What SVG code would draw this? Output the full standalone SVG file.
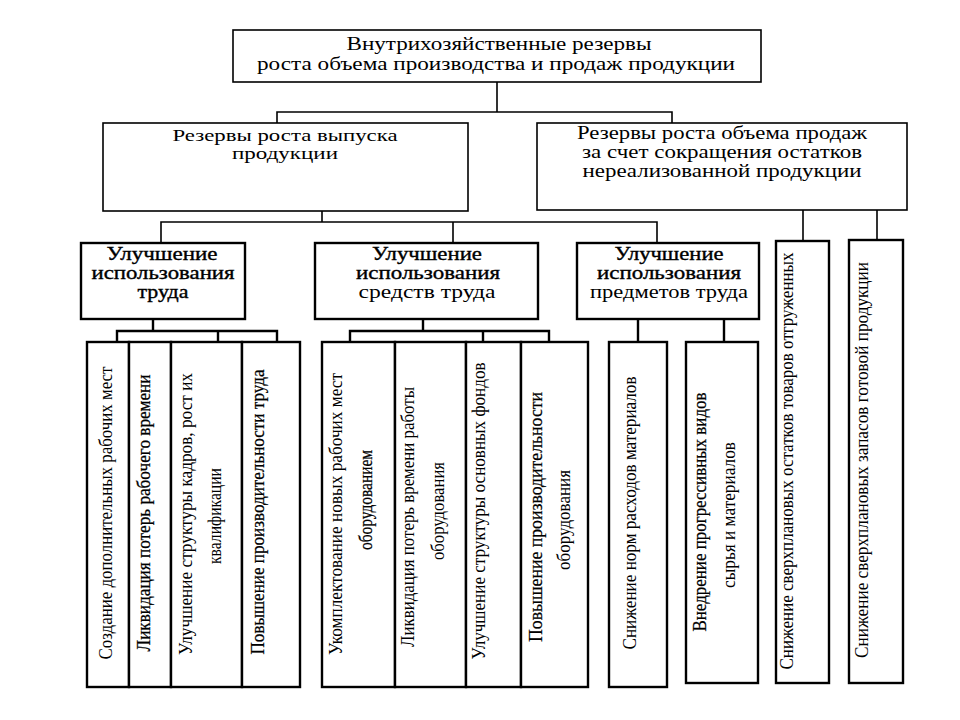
<svg xmlns="http://www.w3.org/2000/svg" width="960" height="720" viewBox="0 0 960 720">
<style>
.bx{fill:#fff;stroke:#000;stroke-width:1.6}
.bt{fill:#fff;stroke:#000;stroke-width:2.4}
.ln{fill:none;stroke:#000;stroke-width:1.6}
.lt{fill:none;stroke:#000;stroke-width:2.4}
text{font-family:"Liberation Serif","Times New Roman",serif;fill:#000;text-anchor:middle}
.h{font-size:18px}
.h2{font-size:17px}
.hb{font-size:18px;stroke:#000;stroke-width:0.35}
.v{font-size:18px}
.vb{font-size:18px;stroke:#000;stroke-width:0.25}
</style>
<rect width="960" height="720" fill="#fff"/>
<g id="connectors">
<path class="ln" d="M497 82V112M277 123V112H672V123"/>
<path class="ln" d="M322 211V222M161 243V222H657V243M453 222V243"/>
<path class="ln" d="M803 210V241M877 210V240"/>
<path class="lt" d="M153 319V331M117 342V331H277V342M218 331V342"/>
<path class="lt" d="M423 319V331M350 342V331H549V342M483 331V342"/>
<path class="lt" d="M638 319V342M724 319V342"/>
</g>
<g id="root">
<rect class="bx" x="233" y="30" width="528" height="52"/>
<text class="h" x="499" y="50" textLength="305" lengthAdjust="spacingAndGlyphs">Внутрихозяйственные резервы</text>
<text class="h" x="496" y="70" textLength="478" lengthAdjust="spacingAndGlyphs">роста объема производства и продаж продукции</text>
</g>
<g id="output">
<rect class="bx" x="103" y="123" width="365" height="88"/>
<text class="h2" x="285" y="141" textLength="225" lengthAdjust="spacingAndGlyphs">Резервы роста выпуска</text>
<text class="h2" x="285" y="159" textLength="106" lengthAdjust="spacingAndGlyphs">продукции</text>
</g>
<g id="sales">
<rect class="bx" x="537" y="123" width="370" height="87"/>
<text class="h" x="722" y="139" textLength="290" lengthAdjust="spacingAndGlyphs">Резервы роста объема продаж</text>
<text class="h" x="722" y="158" textLength="280" lengthAdjust="spacingAndGlyphs">за счет сокращения остатков</text>
<text class="h" x="722" y="177" textLength="279" lengthAdjust="spacingAndGlyphs">нереализованной продукции</text>
</g>
<g id="labor">
<rect class="bt" x="81" y="243" width="164" height="76"/>
<text class="hb" x="162" y="260" textLength="111" lengthAdjust="spacingAndGlyphs">Улучшение</text>
<text class="hb" x="163" y="279" textLength="143" lengthAdjust="spacingAndGlyphs">использования</text>
<text class="hb" x="163" y="298" textLength="51" lengthAdjust="spacingAndGlyphs">труда</text>
</g>
<g id="means">
<rect class="bt" x="315" y="243" width="223" height="76"/>
<text class="hb" x="427" y="260" textLength="110" lengthAdjust="spacingAndGlyphs">Улучшение</text>
<text class="hb" x="428" y="279" textLength="144" lengthAdjust="spacingAndGlyphs">использования</text>
<text class="h" x="427" y="298" textLength="137" lengthAdjust="spacingAndGlyphs">средств труда</text>
</g>
<g id="objects">
<rect class="bt" x="577" y="243" width="182" height="76"/>
<text class="hb" x="669" y="260" textLength="109" lengthAdjust="spacingAndGlyphs">Улучшение</text>
<text class="hb" x="669" y="279" textLength="144" lengthAdjust="spacingAndGlyphs">использования</text>
<text class="h" x="669" y="298" textLength="158" lengthAdjust="spacingAndGlyphs">предметов труда</text>
</g>
<g id="l1">
<rect class="bt" x="87" y="342" width="42" height="345"/>
<text class="v" transform="translate(112 513) rotate(-90)" textLength="293" lengthAdjust="spacingAndGlyphs">Создание дополнительных рабочих мест</text>
</g>
<g id="l2">
<rect class="bt" x="129" y="342" width="42" height="345"/>
<text class="vb" transform="translate(150 513) rotate(-90)" textLength="277" lengthAdjust="spacingAndGlyphs">Ликвидация потерь рабочего времени</text>
</g>
<g id="l3">
<rect class="bt" x="171" y="342" width="71" height="345"/>
<text class="v" transform="translate(192 514) rotate(-90)" textLength="282" lengthAdjust="spacingAndGlyphs">Улучшение структуры кадров, рост их</text>
<text class="v" transform="translate(221 516) rotate(-90)" textLength="96" lengthAdjust="spacingAndGlyphs">квалификации</text>
</g>
<g id="l4">
<rect class="bt" x="242" y="342" width="58" height="345"/>
<text class="vb" transform="translate(264 512) rotate(-90)" textLength="285" lengthAdjust="spacingAndGlyphs">Повышение производительности труда</text>
</g>
<g id="m1">
<rect class="bt" x="322" y="342" width="73" height="345"/>
<text class="v" transform="translate(342 514) rotate(-90)" textLength="282" lengthAdjust="spacingAndGlyphs">Укомплектование новых рабочих мест</text>
<text class="vb" transform="translate(372 500) rotate(-90)" textLength="100" lengthAdjust="spacingAndGlyphs">оборудованием</text>
</g>
<g id="m2">
<rect class="bt" x="395" y="342" width="71" height="345"/>
<text class="v" transform="translate(414 517) rotate(-90)" textLength="260" lengthAdjust="spacingAndGlyphs">Ликвидация потерь времени работы</text>
<text class="v" transform="translate(444 511) rotate(-90)" textLength="98" lengthAdjust="spacingAndGlyphs">оборудования</text>
</g>
<g id="m3">
<rect class="bt" x="466" y="342" width="55" height="345"/>
<text class="v" transform="translate(485 511) rotate(-90)" textLength="297" lengthAdjust="spacingAndGlyphs">Улучшение структуры основных фондов</text>
</g>
<g id="m4">
<rect class="bt" x="521" y="342" width="67" height="345"/>
<text class="vb" transform="translate(542 517) rotate(-90)" textLength="250" lengthAdjust="spacingAndGlyphs">Повышение производительности</text>
<text class="v" transform="translate(570 520) rotate(-90)" textLength="100" lengthAdjust="spacingAndGlyphs">оборудования</text>
</g>
<g id="o1">
<rect class="bt" x="609" y="342" width="58" height="345"/>
<text class="v" transform="translate(636 513) rotate(-90)" textLength="273" lengthAdjust="spacingAndGlyphs">Снижение норм расходов материалов</text>
</g>
<g id="o2">
<rect class="bt" x="686" y="342" width="72" height="341"/>
<text class="vb" transform="translate(706 512) rotate(-90)" textLength="239" lengthAdjust="spacingAndGlyphs">Внедрение прогрессивных видов</text>
<text class="v" transform="translate(735 515) rotate(-90)" textLength="146" lengthAdjust="spacingAndGlyphs">сырья и материалов</text>
</g>
<g id="s1">
<rect class="bt" x="776" y="241" width="53" height="442"/>
<text class="v" transform="translate(793 461) rotate(-90)" textLength="417" lengthAdjust="spacingAndGlyphs">Снижение сверхплановых остатков товаров отгруженных</text>
</g>
<g id="s2">
<rect class="bt" x="849" y="240" width="54" height="443"/>
<text class="v" transform="translate(868 460) rotate(-90)" textLength="396" lengthAdjust="spacingAndGlyphs">Снижение сверхплановых запасов готовой продукции</text>
</g>
</svg>
